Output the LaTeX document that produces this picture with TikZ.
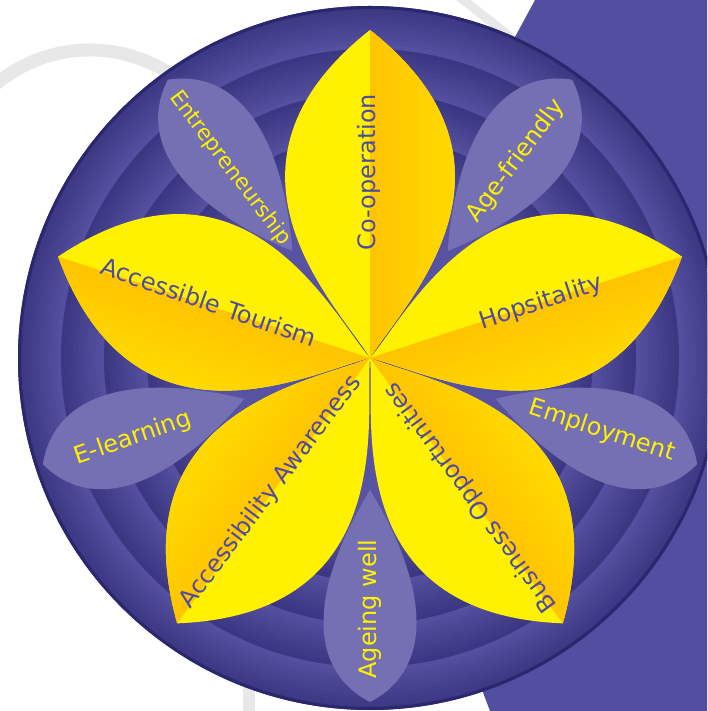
\documentclass[tikz,border=0pt]{standalone}
\usepackage{fontspec}
\setmainfont{DejaVu Sans}
\usepackage{tikz}
\usetikzlibrary{positioning,calc}

\definecolor{bgpurple}{HTML}{524EA0}
\definecolor{ringdark}{HTML}{3C3782}
\definecolor{ringlight}{HTML}{5752A2}
\definecolor{rimnavy}{HTML}{2B276E}
\definecolor{lavender}{HTML}{7470B3}
\definecolor{petalyellow}{HTML}{FFF100}
\definecolor{petalorange}{HTML}{FFC400}
\definecolor{labelpurple}{HTML}{4F4BA0}
\definecolor{labelyellow}{HTML}{FFF200}
\definecolor{greyband}{HTML}{E8E8E8}

\tikzset{
  yellowlabel/.style={text=labelpurple, font=\fontsize{24}{28}\selectfont, inner sep=0pt},
  lavenderlabel/.style={text=labelyellow, font=\fontsize{24}{28}\selectfont, inner sep=0pt},
  greystroke/.style={draw=greyband, line width=13pt}
}

\begin{document}
\begin{tikzpicture}[x=1pt,y=1pt]
        \useasboundingbox (0,0) rectangle (707,711);
        \clip (0,0) rectangle (707,711);
        \coordinate (C) at (370,353);
        \draw[greystroke] (90,514) ++(170:147) arc[start angle=170, end angle=20, radius=147];
        \draw[greystroke, line width=9pt] (452,720) -- (545,647);
        \draw[greystroke, line width=12pt] (249,-10) -- (249,60);
        \fill[bgpurple] (535,711) -- (707,711) -- (707,0) -- (490,0) -- (448,111) -- (454,561) -- cycle;
        \foreach \r in {352,309,266,223} {
          \foreach \k in {0,...,9} {
            \fill[ringlight!\k0!ringdark] (C) circle[radius=\r-4.3*\k];
          }
        }
        \fill[ringlight] (C) circle[radius=180];
        \draw[rimnavy, line width=3pt] (C) circle[radius=350.5];
        \foreach \a in {126,54,-18,-90,-162} {
          \fill[lavender, shift={(C)}, rotate=\a] (132,0) .. controls (234,62) and (312,62) .. (344,0) .. controls (312,-62) and (234,-62) .. (132,0);
        }
        \foreach \a/\s in {90/-1,18/-1,162/1,234/-1,306/1} {
          \begin{scope}[transform canvas={shift={(370pt,353pt)}, rotate=\a, yscale=\s}]
            \fill[petalyellow] (0,0) .. controls (50,-30) and (190,-175) .. (328,0) .. controls (190,175) and (50,30) .. (0,0);
            \shade[top color=petalyellow, bottom color=petalorange] (0,0) .. controls (50,30) and (190,175) .. (328,0) -- cycle;
          \end{scope}
        }
        \node[yellowlabel, rotate=90] (coop) at (369,539) {Co-operation};
        \node[yellowlabel, rotate=18] (hospitality) at (541,408) {Hopsitality};
        \node[yellowlabel, rotate=-19] (tourism) at (209,409) {Accessible Tourism};
        \node[yellowlabel, rotate=53] (awareness) at (271,219) {Accessibility Awareness};
        \node[yellowlabel, rotate=126] (business) at (471,214) {Business Opportunities};
        \node[lavenderlabel, rotate=-53, font=\fontsize{21.5}{26}\selectfont] (entrepreneur) at (230,543) {Entrepreneurship};
        \node[lavenderlabel, rotate=53] (agefriendly) at (516,550) {Age-friendly};
        \node[lavenderlabel, rotate=-18] (employment) at (602,280) {Employment};
        \node[lavenderlabel, rotate=90] (ageing) at (370,102) {Ageing well};
        \node[lavenderlabel, rotate=19] (elearning) at (133,273) {E-learning};
\end{tikzpicture}
\end{document}
